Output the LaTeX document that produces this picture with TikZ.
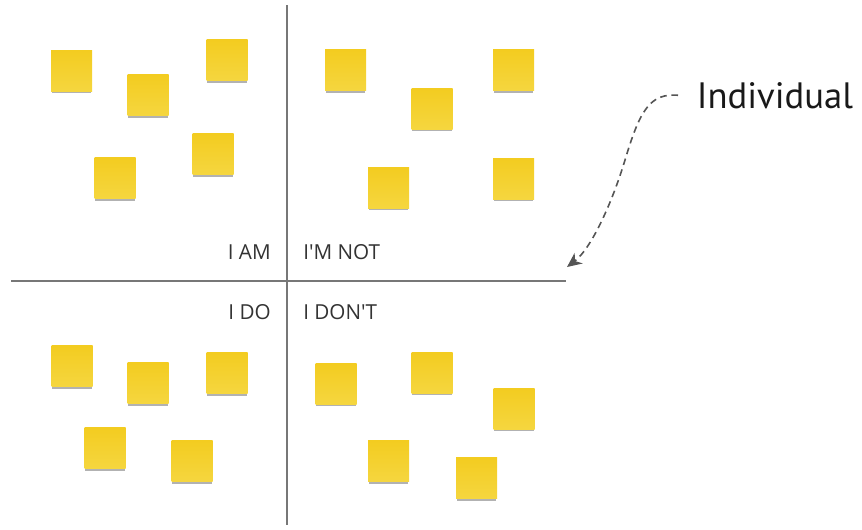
\documentclass[tikz,border=0pt]{standalone}
\usepackage{fontspec}
\setmainfont{Open Sans}
\newfontfamily\titlefont{PT Sans}
\usepackage{tikz}
\usetikzlibrary{arrows.meta, shadows}
\definecolor{noteyellow}{HTML}{F3CC20}
\definecolor{notelight}{HTML}{F5D63F}
\definecolor{axisgray}{HTML}{777777}
\definecolor{arrowgray}{HTML}{555555}
\definecolor{labelgray}{HTML}{333333}

\begin{document}
\begin{tikzpicture}[x=0.75pt, y=-0.75pt,
  note/.style={minimum size=30.75pt, inner sep=0pt,
               top color=noteyellow, bottom color=notelight,
               drop shadow={shadow xshift=0pt, shadow yshift=-2.4pt,
                            shadow scale=0.96, fill=black, opacity=0.3}},
  axis/.style={draw=axisgray, line width=0.9pt},
  quad/.style={font=\fontsize{15.5}{18}\selectfont, text=labelgray, inner sep=0pt},
  link/.style={draw=arrowgray, line width=1.2pt, dash pattern=on 5pt off 3.5pt,
               -{Stealth[length=11pt, width=10pt]}}
]
  \useasboundingbox (0,0) rectangle (862,529);

  % the two axes
  \coordinate (top)   at (287,5);
  \coordinate (bot)   at (287,525);
  \coordinate (left)  at (11,281);
  \coordinate (right) at (566,281);
  \draw[axis] (top)  -- (bot);
  \draw[axis] (left) -- (right);

  % quadrant labels
  \node[quad, anchor=base east] (am)    at (271,259) {I AM};
  \node[quad, anchor=base west] (amnot) at (303,259) {I\textquotesingle M NOT};
  \node[quad, anchor=base east] (do)    at (271,319) {I DO};
  \node[quad, anchor=base west] (donot) at (303,319) {I DON\textquotesingle T};

  % I AM
  \node[note] (am1) at (71.5,70.5) {};
  \node[note] (am2) at (148,95)    {};
  \node[note] (am3) at (227,60)    {};
  \node[note] (am4) at (115,178)   {};
  \node[note] (am5) at (213,154)   {};

  % I'M NOT
  \node[note] (amnot1) at (345.5,70)  {};
  \node[note] (amnot2) at (432,108.5) {};
  \node[note] (amnot3) at (513.5,70)  {};
  \node[note] (amnot4) at (388.5,187.5) {};
  \node[note] (amnot5) at (513.5,178.5) {};

  % I DO
  \node[note] (do1) at (72,366)  {};
  \node[note] (do2) at (148,383) {};
  \node[note] (do3) at (227,373) {};
  \node[note] (do4) at (105,448) {};
  \node[note] (do5) at (192,461) {};

  % I DON'T
  \node[note] (donot1) at (336,383.5)  {};
  \node[note] (donot2) at (432,372.5)  {};
  \node[note] (donot3) at (514,408.5)  {};
  \node[note] (donot4) at (388.5,461)  {};
  \node[note] (donot5) at (476.5,478)  {};

  % pointer
  \node[anchor=base west, inner xsep=14pt, inner ysep=0pt,
        font=\titlefont\fontsize{27.5}{30}\selectfont, text=black!90] (indiv) at (678,108) {Individual};
  \coordinate (tip) at (567,267);
  \draw[link] (indiv.west) .. controls (650,93) and (640,110) .. (625,160)
                           .. controls (613,200) and (592,248) .. (tip);
\end{tikzpicture}
\end{document}
